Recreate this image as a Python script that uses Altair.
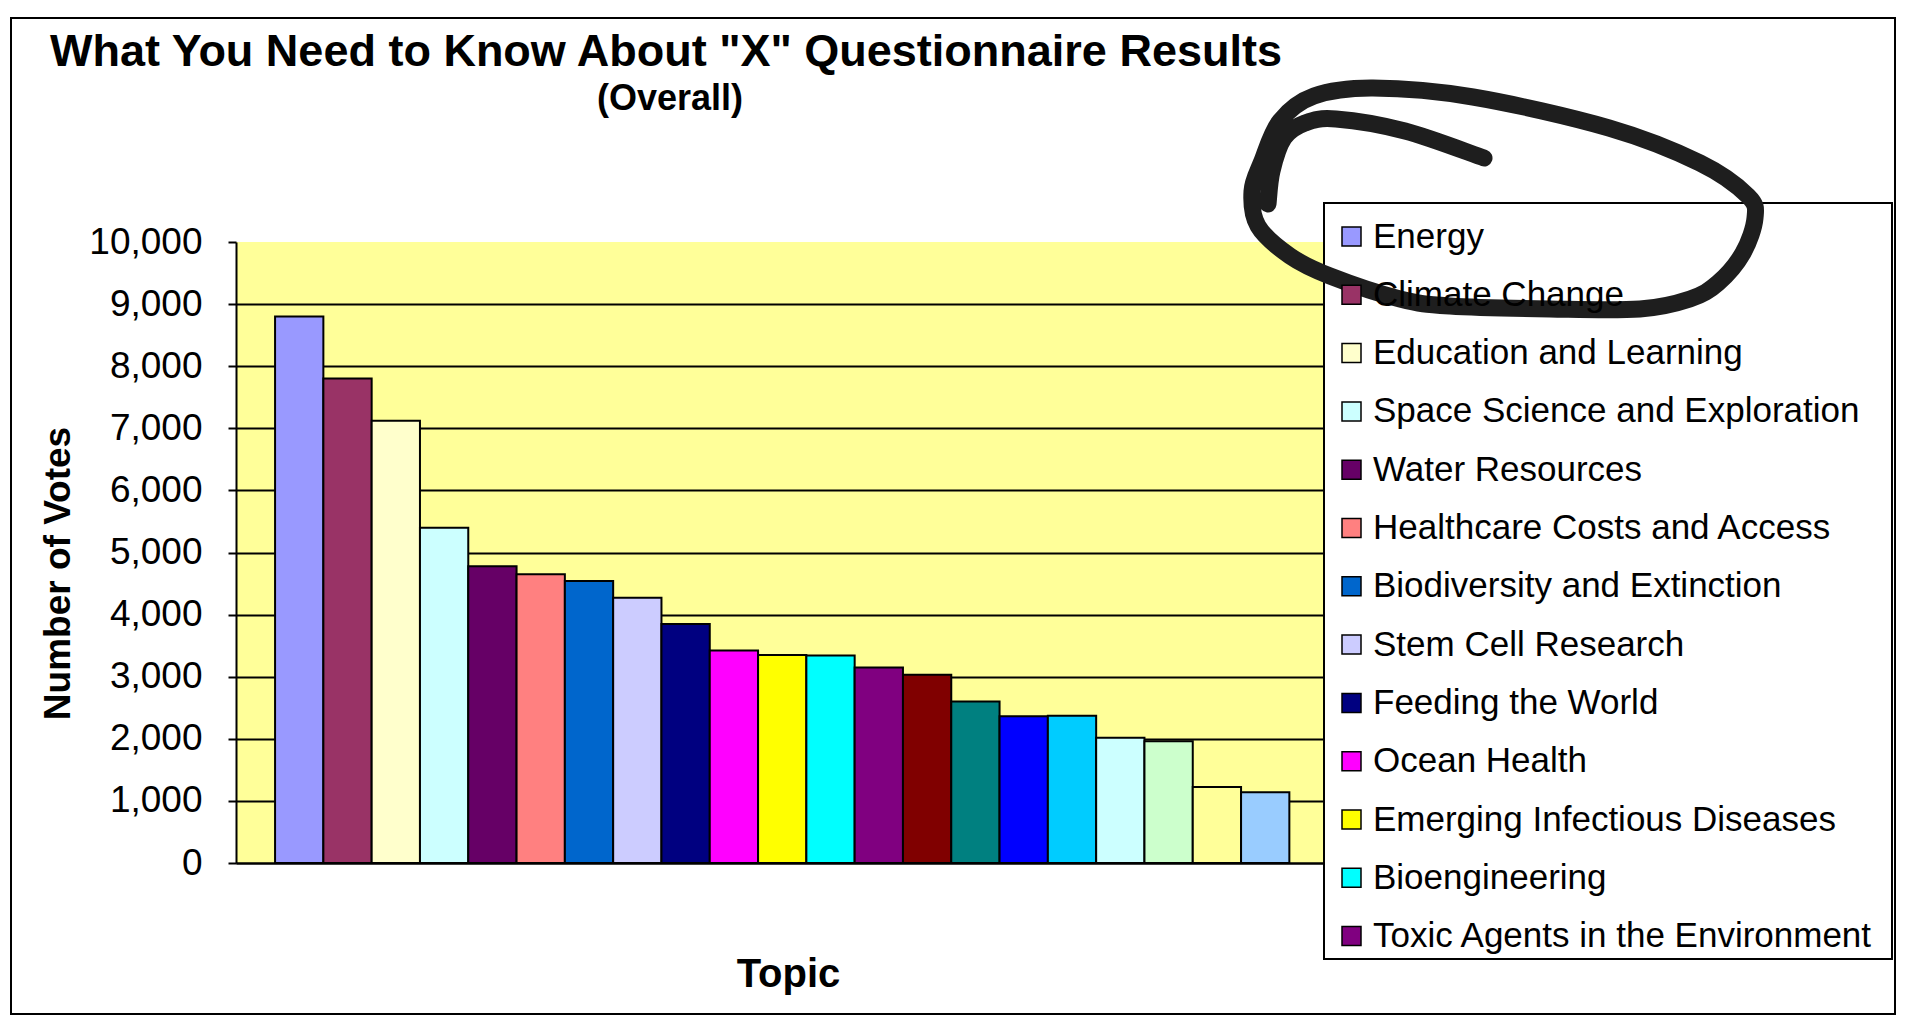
import altair as alt
import pandas as pd

# ---------------- data ----------------
topics = [
    "Energy", "Climate Change", "Education and Learning",
    "Space Science and Exploration", "Water Resources",
    "Healthcare Costs and Access", "Biodiversity and Extinction",
    "Stem Cell Research", "Feeding the World", "Ocean Health",
    "Emerging Infectious Diseases", "Bioengineering",
    "Toxic Agents in the Environment",
    "Topic 14", "Topic 15", "Topic 16", "Topic 17",
    "Topic 18", "Topic 19", "Topic 20", "Topic 21",
]
votes = [8800, 7800, 7120, 5400, 4780, 4650, 4540, 4270, 3850, 3420,
         3350, 3340, 3150, 3030, 2600, 2365, 2370, 2015, 1960, 1225, 1140]
colors = ["#9999FF", "#993366", "#FFFFCC", "#CCFFFF", "#660066", "#FF8080",
          "#0066CC", "#CCCCFF", "#000080", "#FF00FF", "#FFFF00", "#00FFFF",
          "#800080", "#800000", "#008080", "#0000FF", "#00CCFF", "#CCFFFF",
          "#CCFFCC", "#FFFF99", "#99CCFF"]
legend_topics = topics[:13]
y_ticks = [0, 1000, 2000, 3000, 4000, 5000, 6000, 7000, 8000, 9000, 10000]

TITLE = 'What You Need to Know About "X" Questionnaire Results'
SUBTITLE = "(Overall)"

df = pd.DataFrame({"Topic": topics, "Votes": votes})
one = pd.DataFrame({"k": [0]})

W, H = 1088, 621
FONT = "Liberation Sans"

# ---------------- hand-drawn scribble (decoration) ----------------
CX, CY, R = 1500, 200, 260.0
inner_pts = [(1484, 157), (1405, 130), (1336, 118), (1305, 122), (1284, 137),
             (1272, 170), (1268, 203)]
outer_pts = [(1262, 160), (1280, 120), (1314, 95), (1373, 87), (1473, 96),
             (1609, 127), (1700, 162), (1748, 195), (1755, 217), (1743, 252),
             (1718, 282), (1690, 298), (1640, 308), (1550, 308), (1450, 305),
             (1400, 298), (1330, 275), (1290, 255), (1258, 225), (1252, 190)]


def norm(p):
    return ((p[0] - CX) / R, (p[1] - CY) / R)


def smooth(pts, closed):
    pts = [norm(p) for p in pts]
    n = len(pts)
    f = lambda v: f"{v:.4f}"
    d = f"M{f(pts[0][0])},{f(pts[0][1])}"
    segs = n if closed else n - 1
    for i in range(segs):
        p0 = pts[(i - 1) % n] if (closed or i > 0) else pts[i]
        p1 = pts[i % n]
        p2 = pts[(i + 1) % n]
        p3 = pts[(i + 2) % n] if (closed or i + 2 < n) else p2
        c1 = (p1[0] + (p2[0] - p0[0]) / 6, p1[1] + (p2[1] - p0[1]) / 6)
        c2 = (p2[0] - (p3[0] - p1[0]) / 6, p2[1] - (p3[1] - p1[1]) / 6)
        d += f"C{f(c1[0])},{f(c1[1])} {f(c2[0])},{f(c2[1])} {f(p2[0])},{f(p2[1])}"
    return d


scribble_path = smooth(inner_pts, False) + " " + smooth(outer_pts, True)

# ---------------- layers ----------------
frame = alt.Chart(one).mark_rect(
    fill="transparent", stroke="black", strokeWidth=2
).encode(
    x=alt.value(-225), x2=alt.value(1659), y=alt.value(-224), y2=alt.value(772)
)

legend_box = alt.Chart(one).mark_rect(
    fill="white", stroke="black", strokeWidth=2
).encode(
    x=alt.value(1088), x2=alt.value(1656), y=alt.value(-39), y2=alt.value(717)
)

bars = alt.Chart(df).mark_bar(stroke="black", strokeWidth=2).encode(
    x=alt.X(
        "Topic:N", sort=topics,
        scale=alt.Scale(paddingInner=0, paddingOuter=0.763, align=0.53),
        axis=alt.Axis(
            labels=False, ticks=False, grid=False, title="Topic",
            titleFont=FONT, titleFontSize=40, titleFontWeight="bold",
            titleColor="black", titleX=552, titleY=111,
            titleAlign="center", titleBaseline="middle",
            domainColor="black", domainWidth=2,
        ),
    ),
    y=alt.Y(
        "Votes:Q",
        scale=alt.Scale(domain=[0, 10000], nice=False),
        axis=alt.Axis(
            values=y_ticks, format=",.0f", title="Number of Votes",
            labelFont=FONT, labelFontSize=37, labelColor="black",
            labelPadding=26,
            tickColor="black", tickWidth=2, tickSize=8,
            domainColor="black", domainWidth=2,
            grid=True, gridColor="black", gridWidth=2,
            gridOpacity={"condition": {"test": "datum.value === 10000", "value": 0}, "value": 1},
            titleFont=FONT, titleFontSize=37, titleFontWeight="bold",
            titleColor="black", titleX=-178, titleY=331,
            titleAlign="center", titleBaseline="middle", titleAngle=270,
        ),
    ),
    color=alt.Color(
        "Topic:N", sort=topics,
        scale=alt.Scale(domain=topics, range=colors),
        legend=alt.Legend(
            orient="none", legendX=W, legendY=-33, direction="vertical",
            values=legend_topics, title=None,
            symbolType="square", symbolSize=361,
            symbolStrokeColor="black", symbolStrokeWidth=1.5, symbolOpacity=1,
            labelFont=FONT, labelFontSize=35, labelColor="black",
            labelOffset=4, labelLimit=1000,
            rowPadding=22.3, padding=10,
        ),
    ),
)

scribble = alt.Chart(one).mark_point(
    shape=scribble_path, size=(2 * R) ** 2, filled=False,
    color="#1e1e1e", strokeWidth=17, strokeCap="round", strokeJoin="round",
    opacity=1,
).encode(x=alt.value(CX - 236), y=alt.value(CY - 241))

title = alt.Chart(one).mark_text(
    text=TITLE, font=FONT, fontSize=45, fontWeight="bold", color="black",
    align="center", baseline="middle",
).encode(x=alt.value(430), y=alt.value(-190))

subtitle = alt.Chart(one).mark_text(
    text=SUBTITLE, font=FONT, fontSize=36, fontWeight="bold", color="black",
    align="center", baseline="middle",
).encode(x=alt.value(434), y=alt.value(-143))

chart = alt.layer(frame, legend_box, bars, scribble, title, subtitle).properties(
    width=W, height=H,
    padding={"left": 2, "top": 9, "right": 5, "bottom": 5},
).configure_view(fill="#FFFF99", strokeWidth=0)

chart.save("out.html", embed_options={"renderer": "svg", "actions": False})
